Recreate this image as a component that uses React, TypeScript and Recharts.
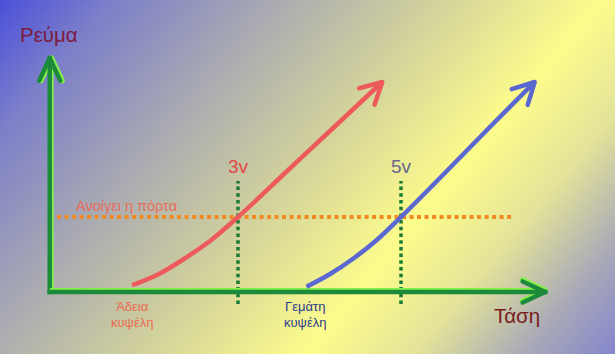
import React from 'react';
import { ComposedChart, Line, XAxis, YAxis, ReferenceLine } from 'recharts';

// voltage (x) and current (y), current 1 = door opens
const emptyVolts = [1.7, 2.03, 2.35, 2.68, 3.0, 3.6, 4.2, 4.77];
const emptyCurrent = [0.09, 0.24, 0.45, 0.7, 1.0, 1.61, 2.22, 2.8];
const fullVolts = [3.84, 4.13, 4.42, 4.71, 5.0, 5.55, 6.1, 6.64];
const fullCurrent = [0.07, 0.24, 0.45, 0.7, 1.0, 1.6, 2.21, 2.8];

const thresholds = [3, 5];
const thresholdLabels = ['3v', '5v'];
const thresholdColors = ['#e2474a', '#6a6790'];
const DOOR_CURRENT = 1;

const emptyCell = emptyVolts.map((v, k) => ({ v, i: emptyCurrent[k] }));
const fullCell = fullVolts.map((v, k) => ({ v, i: fullCurrent[k] }));

const W = 615;
const H = 354;

const DARK_GREEN = '#1b8a3a';
const LIGHT_GREEN = '#86f04a';

type SegProps = { x1?: number; y1?: number; x2?: number; y2?: number };

const chevron = (x1: number, y1: number, x2: number, y2: number, len: number, deg: number) => {
  const dx = x1 - x2;
  const dy = y1 - y2;
  const d = Math.hypot(dx, dy) || 1;
  const ux = dx / d;
  const uy = dy / d;
  const a = (deg * Math.PI) / 180;
  const r = (s: number) => [
    x2 + len * (ux * Math.cos(s * a) - uy * Math.sin(s * a)),
    y2 + len * (ux * Math.sin(s * a) + uy * Math.cos(s * a)),
  ];
  const [ax, ay] = r(1);
  const [bx, by] = r(-1);
  return `M${ax},${ay} L${x2},${y2} L${bx},${by}`;
};

const axisShape = (ox: number, oy: number) => (props: SegProps) => {
  const x1 = Number(props.x1);
  const y1 = Number(props.y1);
  const x2 = Number(props.x2);
  const y2 = Number(props.y2);
  const head = chevron(x1, y1, x2, y2, 25, 25);
  return (
    <g>
      <line x1={x1 + ox} y1={y1 + oy} x2={x2 + ox} y2={y2 + oy} stroke={LIGHT_GREEN} strokeWidth={2.2} />
      <path d={head} transform={`translate(${ox * 0.6},${oy * 0.6})`} fill="none" stroke={LIGHT_GREEN} strokeWidth={5.5} strokeLinecap="round" strokeLinejoin="round" />
      <line x1={x1} y1={y1} x2={x2} y2={y2} stroke={DARK_GREEN} strokeWidth={4.5} strokeLinecap="square" />
      <path d={head} fill="none" stroke={DARK_GREEN} strokeWidth={4.5} strokeLinecap="round" strokeLinejoin="round" />
    </g>
  );
};

const headShape = (color: string) => (props: SegProps) => (
  <path
    d={chevron(Number(props.x1), Number(props.y1), Number(props.x2), Number(props.y2), 24, 28)}
    fill="none"
    stroke={color}
    strokeWidth={4.5}
    strokeLinecap="round"
    strokeLinejoin="round"
  />
);

const RED = '#ec5a5c';
const BLUE = '#5b68d2';

const last2 = (arr: { v: number; i: number }[]) => [
  { x: arr[arr.length - 2].v, y: arr[arr.length - 2].i },
  { x: arr[arr.length - 1].v, y: arr[arr.length - 1].i },
];

const textBase: React.CSSProperties = {
  position: 'absolute',
  fontFamily: '"Liberation Sans", Arial, sans-serif',
  lineHeight: 1.25,
  whiteSpace: 'nowrap',
};

export default function App() {
  return (
    <div
      style={{
        position: 'fixed',
        left: 0,
        top: 0,
        width: W,
        height: H,
        overflow: 'hidden',
        background:
          'linear-gradient(130deg, #4a50da 0%, #7c7ec9 12%, #a9aab2 30%, #d2d29c 48%, #fcfc8c 66%, #e3e39a 78%, #a9a9b8 90%, #8486cc 100%)',
      }}
    >
      <ComposedChart width={W} height={H} margin={{ top: 29.5, right: 10.25, bottom: 24.5, left: 34.25 }}>
        <XAxis dataKey="v" type="number" domain={[0.5, 7.5]} allowDataOverflow hide />
        <YAxis type="number" domain={[-0.5, 3.5]} allowDataOverflow hide />

        <ReferenceLine
          segment={[{ x: 0.78, y: DOOR_CURRENT }, { x: 6.38, y: DOOR_CURRENT }]}
          stroke="#f28a22"
          strokeWidth={4}
          strokeDasharray="4 3.5"
        />
        {thresholds.map((t, k) => (
          <ReferenceLine
            key={t}
            segment={[{ x: t, y: -0.16 }, { x: t, y: 1.48 }]}
            stroke="#1d7a34"
            strokeWidth={3.5}
            strokeDasharray="3.5 3.2"
            label={{ value: thresholdLabels[k], position: 'top', offset: 8, fill: thresholdColors[k], fontSize: 19, fontFamily: '"Liberation Sans", Arial, sans-serif' }}
          />
        ))}

        <ReferenceLine segment={[{ x: 0.69, y: 0 }, { x: 0.69, y: 3.12 }]} shape={axisShape(2.8, 0)} />
        <ReferenceLine segment={[{ x: 0.69, y: 0 }, { x: 6.77, y: 0 }]} shape={axisShape(0, -2.8)} />

        <Line data={emptyCell} dataKey="i" type="monotone" stroke={RED} strokeWidth={4.5} dot={false} isAnimationActive={false} />
        <Line data={fullCell} dataKey="i" type="monotone" stroke={BLUE} strokeWidth={4.5} dot={false} isAnimationActive={false} />
        <ReferenceLine segment={last2(emptyCell)} shape={headShape(RED)} />
        <ReferenceLine segment={last2(fullCell)} shape={headShape(BLUE)} />
      </ComposedChart>

      <div style={{ ...textBase, left: 20, top: 22, fontSize: 20.5, color: '#7d1a3c' }}>Ρεύμα</div>
      <div style={{ ...textBase, left: 494, top: 303, fontSize: 20.5, color: '#7a1c1c' }}>Τάση</div>
      <div style={{ ...textBase, left: 76, top: 197, fontSize: 14.5, color: '#e86c5a' }}>Ανοίγει η πόρτα</div>
      <div style={{ ...textBase, left: 111, top: 299, fontSize: 13, color: '#ea6a50', textAlign: 'center' }}>
        Άδεια
        <br />
        κυψέλη
      </div>
      <div style={{ ...textBase, left: 284, top: 299, fontSize: 13, color: '#2a3a8e', textAlign: 'center' }}>
        Γεμάτη
        <br />
        κυψέλη
      </div>
    </div>
  );
}
